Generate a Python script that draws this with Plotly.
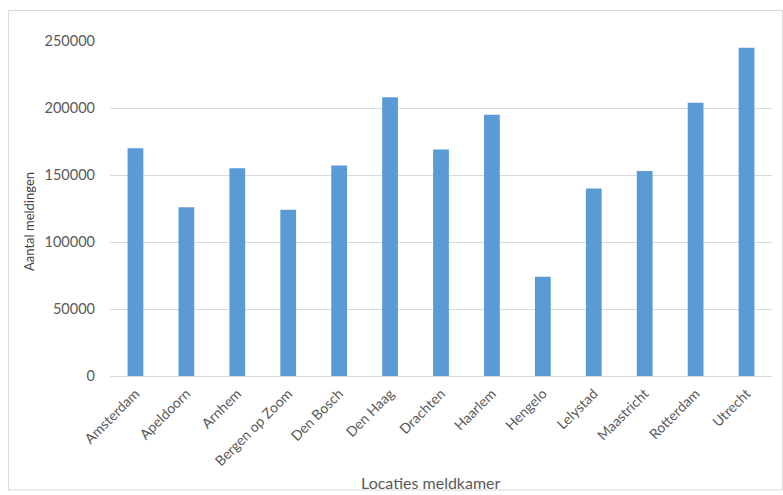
import plotly.graph_objects as go

# Aantal meldingen per meldkamerlocatie
locaties = ["Amsterdam", "Apeldoorn", "Arnhem", "Bergen op Zoom", "Den Bosch",
            "Den Haag", "Drachten", "Haarlem", "Hengelo", "Lelystad",
            "Maastricht", "Rotterdam", "Utrecht"]
meldingen = [170000, 126000, 155000, 124000, 157000, 208000, 169000,
             195000, 74000, 140000, 153000, 204000, 245000]
y_ticks = [0, 50000, 100000, 150000, 200000, 250000]

W, H = 783, 495
L, R, T, B = 110, 11, 41, 119
pw, ph = W - L - R, H - T - B

def px_x(x):
    return (x - L) / pw

def px_y(y):
    return (H - B - y) / ph

fig = go.Figure(go.Bar(
    x=locaties,
    y=meldingen,
    marker=dict(color="#5b9bd5", line=dict(width=0)),
))

fig.update_layout(
    width=W, height=H,
    margin=dict(l=L, r=R, t=T, b=B),
    paper_bgcolor="white",
    plot_bgcolor="white",
    bargap=0.69,
    showlegend=False,
    font=dict(family="Lato, Open Sans, sans-serif", size=12, color="#595959"),
    xaxis=dict(
        tickangle=-45,
        showgrid=False,
        showline=True,
        linecolor="#d9d9d9",
        linewidth=1,
        ticks="",
        ticklabelstandoff=3,
        tickfont=dict(size=14, color="#595959"),
    ),
    yaxis=dict(
        range=[0, 250000],
        tickvals=y_ticks,
        ticktext=[str(v) for v in y_ticks],
        showgrid=True,
        gridcolor="#d9d9d9",
        gridwidth=1,
        zeroline=False,
        showline=False,
        ticks="",
        ticklabelstandoff=14,
        tickfont=dict(size=14.5, color="#595959"),
    ),
    shapes=[dict(
        type="rect", xref="paper", yref="paper",
        x0=px_x(8.5), x1=px_x(782.5), y0=px_y(490), y1=px_y(10.5),
        line=dict(color="#d9d9d9", width=1), fillcolor="rgba(0,0,0,0)",
        layer="below",
    )],
    annotations=[
        dict(text="Aantal meldingen", xref="paper", yref="paper",
             x=px_x(29), y=px_y(222), textangle=-90, showarrow=False,
             font=dict(size=13, color="#404040"),
             xanchor="center", yanchor="middle"),
        dict(text="Locaties meldkamer", xref="paper", yref="paper",
             x=px_x(431), y=px_y(482), showarrow=False,
             font=dict(size=16, color="#595959"),
             xanchor="center", yanchor="middle"),
    ],
)

fig.write_html("out.html")
